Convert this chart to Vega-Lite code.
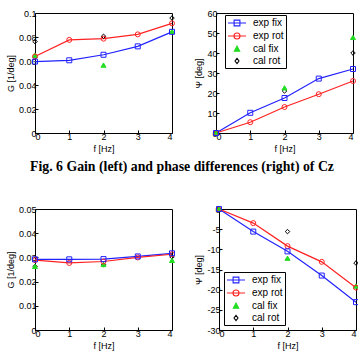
{
  "$schema": "https://vega.github.io/schema/vega-lite/v6.json",
  "padding": {"left": 5, "top": 8, "right": 2, "bottom": 0},
  "background": "white",
  "datasets": {
    "gainTop": [
      {"series": "exp fix", "f": 0, "v": 0.0595}, {"series": "exp fix", "f": 1, "v": 0.0606}, {"series": "exp fix", "f": 2, "v": 0.0652}, {"series": "exp fix", "f": 3, "v": 0.0722}, {"series": "exp fix", "f": 4, "v": 0.0843},
      {"series": "exp rot", "f": 0, "v": 0.0638}, {"series": "exp rot", "f": 1, "v": 0.0776}, {"series": "exp rot", "f": 2, "v": 0.0786}, {"series": "exp rot", "f": 3, "v": 0.0822}, {"series": "exp rot", "f": 4, "v": 0.0914},
      {"series": "cal fix", "f": 0, "v": 0.0648}, {"series": "cal fix", "f": 2, "v": 0.0566}, {"series": "cal fix", "f": 4, "v": 0.0847},
      {"series": "cal rot", "f": 0, "v": 0.0762}, {"series": "cal rot", "f": 2, "v": 0.0806}, {"series": "cal rot", "f": 4, "v": 0.0958}
    ],
    "phaseTop": [
      {"series": "exp fix", "f": 0, "v": 0}, {"series": "exp fix", "f": 1, "v": 10.1}, {"series": "exp fix", "f": 2, "v": 17.5}, {"series": "exp fix", "f": 3, "v": 27.2}, {"series": "exp fix", "f": 4, "v": 32.0},
      {"series": "exp rot", "f": 0, "v": 0}, {"series": "exp rot", "f": 1, "v": 5.4}, {"series": "exp rot", "f": 2, "v": 13.0}, {"series": "exp rot", "f": 3, "v": 19.4}, {"series": "exp rot", "f": 4, "v": 26.0},
      {"series": "cal fix", "f": 0, "v": 0}, {"series": "cal fix", "f": 2, "v": 22.6}, {"series": "cal fix", "f": 4, "v": 47.8},
      {"series": "cal rot", "f": 0, "v": 0}, {"series": "cal rot", "f": 2, "v": 21.0}, {"series": "cal rot", "f": 4, "v": 40.0}
    ],
    "gainBottom": [
      {"series": "exp fix", "f": 0, "v": 0.0292}, {"series": "exp fix", "f": 1, "v": 0.0292}, {"series": "exp fix", "f": 2, "v": 0.0293}, {"series": "exp fix", "f": 3, "v": 0.0304}, {"series": "exp fix", "f": 4, "v": 0.0317},
      {"series": "exp rot", "f": 0, "v": 0.0289}, {"series": "exp rot", "f": 1, "v": 0.0277}, {"series": "exp rot", "f": 2, "v": 0.0283}, {"series": "exp rot", "f": 3, "v": 0.0300}, {"series": "exp rot", "f": 4, "v": 0.0313},
      {"series": "cal fix", "f": 0, "v": 0.0263}, {"series": "cal fix", "f": 2, "v": 0.0271}, {"series": "cal fix", "f": 4, "v": 0.0288},
      {"series": "cal rot", "f": 0, "v": 0.0262}, {"series": "cal rot", "f": 2, "v": 0.0270}, {"series": "cal rot", "f": 4, "v": 0.0302}
    ],
    "phaseBottom": [
      {"series": "exp fix", "f": 0, "v": 0}, {"series": "exp fix", "f": 1, "v": -5.6}, {"series": "exp fix", "f": 2, "v": -10.5}, {"series": "exp fix", "f": 3, "v": -16.5}, {"series": "exp fix", "f": 4, "v": -23.1},
      {"series": "exp rot", "f": 0, "v": 0}, {"series": "exp rot", "f": 1, "v": -3.5}, {"series": "exp rot", "f": 2, "v": -9.2}, {"series": "exp rot", "f": 3, "v": -13.1}, {"series": "exp rot", "f": 4, "v": -19.5},
      {"series": "cal fix", "f": 0, "v": 0}, {"series": "cal fix", "f": 2, "v": -12.2}, {"series": "cal fix", "f": 4, "v": -19.1},
      {"series": "cal rot", "f": 0, "v": 0}, {"series": "cal rot", "f": 2, "v": -5.6}, {"series": "cal rot", "f": 4, "v": -13.4}
    ]
  },
  "vconcat": [
    {
      "title": {"text": "Fig. 6 Gain (left) and phase differences (right) of Cz", "orient": "bottom", "anchor": "middle", "font": "Liberation Serif", "fontSize": 13.8, "fontWeight": "bold", "color": "#000", "offset": 6},
      "spacing": 17,
      "hconcat": [
        {
          "width": 137, "height": 120,
          "data": {"name": "gainTop"},
          "encoding": {
            "x": {"field": "f", "type": "quantitative", "scale": {"domain": [0, 4], "nice": false}, "axis": {"values": [0, 1, 2, 3, 4], "title": "f [Hz]"}},
            "y": {"field": "v", "type": "quantitative", "scale": {"domain": [0, 0.1], "nice": false}, "axis": {"values": [0, 0.02, 0.04, 0.06, 0.08, 0.1], "format": "~g", "title": "G [1/deg]"}},
            "color": {"field": "series", "type": "nominal", "scale": {"domain": ["exp fix", "exp rot", "cal fix", "cal rot"], "range": ["#2222ff", "#ff2222", "#22dd22", "#000000"]}, "legend": null}
          },
          "layer": [
            {"transform": [{"filter": "datum.series === 'exp fix' || datum.series === 'exp rot'"}], "mark": {"type": "line", "strokeWidth": 1.2}},
            {"transform": [{"filter": "datum.series === 'cal rot'"}], "mark": {"type": "point", "shape": "diamond", "filled": false, "size": 20, "strokeWidth": 1, "opacity": 1}},
            {"transform": [{"filter": "datum.series === 'cal fix'"}], "mark": {"type": "point", "shape": "triangle-up", "filled": false, "fill": "#22dd22", "size": 25, "strokeWidth": 1, "opacity": 1}},
            {"transform": [{"filter": "datum.series === 'exp rot'"}], "mark": {"type": "point", "shape": "circle", "filled": false, "size": 25, "strokeWidth": 1, "opacity": 1}},
            {"transform": [{"filter": "datum.series === 'exp fix'"}], "mark": {"type": "point", "shape": "square", "filled": false, "size": 25, "strokeWidth": 1, "opacity": 1}}
          ]
        },
        {
          "width": 137, "height": 120,
          "data": {"name": "phaseTop"},
          "encoding": {
            "x": {"field": "f", "type": "quantitative", "scale": {"domain": [0, 4], "nice": false}, "axis": {"values": [0, 1, 2, 3, 4], "title": "f [Hz]"}},
            "y": {"field": "v", "type": "quantitative", "scale": {"domain": [0, 60], "nice": false}, "axis": {"values": [0, 10, 20, 30, 40, 50, 60], "title": "Ψ [deg]"}},
            "color": {"field": "series", "type": "nominal", "scale": {"domain": ["exp fix", "exp rot", "cal fix", "cal rot"], "range": ["#2222ff", "#ff2222", "#22dd22", "#000000"]},
              "legend": {"orient": "none", "legendX": 9, "legendY": 2,
                "encode": {"symbols": {"update": {
                  "shape": {"signal": "datum.value === 'exp fix' ? 'M-1.8,0H1.8M-0.58,-0.58H0.58V0.58H-0.58Z' : datum.value === 'exp rot' ? 'M-1.8,0H1.8M0.6,0A0.6,0.6 0 1,1 -0.6,0A0.6,0.6 0 1,1 0.6,0Z' : datum.value === 'cal fix' ? 'M0,-0.58L0.54,0.43L-0.54,0.43Z' : 'M0,-0.54L0.4,0L0,0.54L-0.4,0Z'"},
                  "fill": {"signal": "datum.value === 'cal fix' ? '#22dd22' : 'transparent'"},
                  "size": {"value": 100},
                  "strokeWidth": {"value": 1.1}
                }}}}}
          },
          "layer": [
            {"transform": [{"filter": "datum.series === 'exp fix' || datum.series === 'exp rot'"}], "mark": {"type": "line", "strokeWidth": 1.2}},
            {"transform": [{"filter": "datum.series === 'cal rot'"}], "mark": {"type": "point", "shape": "diamond", "filled": false, "size": 20, "strokeWidth": 1, "opacity": 1}},
            {"transform": [{"filter": "datum.series === 'cal fix'"}], "mark": {"type": "point", "shape": "triangle-up", "filled": false, "fill": "#22dd22", "size": 25, "strokeWidth": 1, "opacity": 1}},
            {"transform": [{"filter": "datum.series === 'exp rot'"}], "mark": {"type": "point", "shape": "circle", "filled": false, "size": 25, "strokeWidth": 1, "opacity": 1}},
            {"transform": [{"filter": "datum.series === 'exp fix'"}], "mark": {"type": "point", "shape": "square", "filled": false, "size": 25, "strokeWidth": 1, "opacity": 1}}
          ]
        }
      ],
      "resolve": {"scale": {"color": "independent"}, "legend": {"color": "independent"}}
    },
    {
      "spacing": 17,
      "hconcat": [
        {
          "width": 137, "height": 121,
          "data": {"name": "gainBottom"},
          "encoding": {
            "x": {"field": "f", "type": "quantitative", "scale": {"domain": [0, 4], "nice": false}, "axis": {"values": [0, 1, 2, 3, 4], "title": "f [Hz]"}},
            "y": {"field": "v", "type": "quantitative", "scale": {"domain": [0, 0.05], "nice": false}, "axis": {"values": [0, 0.01, 0.02, 0.03, 0.04, 0.05], "format": "~g", "title": "G [1/deg]"}},
            "color": {"field": "series", "type": "nominal", "scale": {"domain": ["exp fix", "exp rot", "cal fix", "cal rot"], "range": ["#2222ff", "#ff2222", "#22dd22", "#000000"]}, "legend": null}
          },
          "layer": [
            {"transform": [{"filter": "datum.series === 'exp fix' || datum.series === 'exp rot'"}], "mark": {"type": "line", "strokeWidth": 1.2}},
            {"transform": [{"filter": "datum.series === 'cal rot'"}], "mark": {"type": "point", "shape": "diamond", "filled": false, "size": 20, "strokeWidth": 1, "opacity": 1}},
            {"transform": [{"filter": "datum.series === 'cal fix'"}], "mark": {"type": "point", "shape": "triangle-up", "filled": false, "fill": "#22dd22", "size": 25, "strokeWidth": 1, "opacity": 1}},
            {"transform": [{"filter": "datum.series === 'exp rot'"}], "mark": {"type": "point", "shape": "circle", "filled": false, "size": 25, "strokeWidth": 1, "opacity": 1}},
            {"transform": [{"filter": "datum.series === 'exp fix'"}], "mark": {"type": "point", "shape": "square", "filled": false, "size": 25, "strokeWidth": 1, "opacity": 1}}
          ]
        },
        {
          "width": 137, "height": 121,
          "data": {"name": "phaseBottom"},
          "encoding": {
            "x": {"field": "f", "type": "quantitative", "scale": {"domain": [0, 4], "nice": false}, "axis": {"values": [0, 1, 2, 3, 4], "title": "f [Hz]"}},
            "y": {"field": "v", "type": "quantitative", "scale": {"domain": [-30, 0], "nice": false}, "axis": {"values": [-30, -25, -20, -15, -10, -5, 0], "labelExpr": "'' + datum.value", "title": "Ψ [deg]"}},
            "color": {"field": "series", "type": "nominal", "scale": {"domain": ["exp fix", "exp rot", "cal fix", "cal rot"], "range": ["#2222ff", "#ff2222", "#22dd22", "#000000"]},
              "legend": {"orient": "bottom-left", "offset": 5,
                "encode": {"symbols": {"update": {
                  "shape": {"signal": "datum.value === 'exp fix' ? 'M-1.8,0H1.8M-0.58,-0.58H0.58V0.58H-0.58Z' : datum.value === 'exp rot' ? 'M-1.8,0H1.8M0.6,0A0.6,0.6 0 1,1 -0.6,0A0.6,0.6 0 1,1 0.6,0Z' : datum.value === 'cal fix' ? 'M0,-0.58L0.54,0.43L-0.54,0.43Z' : 'M0,-0.54L0.4,0L0,0.54L-0.4,0Z'"},
                  "fill": {"signal": "datum.value === 'cal fix' ? '#22dd22' : 'transparent'"},
                  "size": {"value": 100},
                  "strokeWidth": {"value": 1.1}
                }}}}}
          },
          "layer": [
            {"transform": [{"filter": "datum.series === 'exp fix' || datum.series === 'exp rot'"}], "mark": {"type": "line", "strokeWidth": 1.2}},
            {"transform": [{"filter": "datum.series === 'cal rot'"}], "mark": {"type": "point", "shape": "diamond", "filled": false, "size": 20, "strokeWidth": 1, "opacity": 1}},
            {"transform": [{"filter": "datum.series === 'cal fix'"}], "mark": {"type": "point", "shape": "triangle-up", "filled": false, "fill": "#22dd22", "size": 25, "strokeWidth": 1, "opacity": 1}},
            {"transform": [{"filter": "datum.series === 'exp rot'"}], "mark": {"type": "point", "shape": "circle", "filled": false, "size": 25, "strokeWidth": 1, "opacity": 1}},
            {"transform": [{"filter": "datum.series === 'exp fix'"}], "mark": {"type": "point", "shape": "square", "filled": false, "size": 25, "strokeWidth": 1, "opacity": 1}}
          ]
        }
      ],
      "resolve": {"scale": {"color": "independent"}, "legend": {"color": "independent"}}
    }
  ],
  "spacing": 30,
  "resolve": {"scale": {"color": "independent"}, "legend": {"color": "independent"}},
  "config": {
    "font": "Liberation Sans",
    "view": {"stroke": "#000", "strokeWidth": 1},
    "axis": {"domain": false, "grid": false, "tickSize": -3, "tickColor": "#000", "labelColor": "#000", "labelFontSize": 9, "labelFont": "Liberation Sans", "titleFont": "Liberation Sans", "titleFontSize": 9, "titleFontWeight": "normal", "titleColor": "#000", "labelPadding": 2, "titlePadding": 3},
    "legend": {"strokeColor": "#000", "fillColor": "#fff", "padding": 2, "cornerRadius": 0, "labelFont": "Liberation Sans", "labelFontSize": 10, "labelColor": "#000", "symbolSize": 40, "symbolOffset": 4, "labelOffset": 10, "rowPadding": 1, "title": null}
  }
}
